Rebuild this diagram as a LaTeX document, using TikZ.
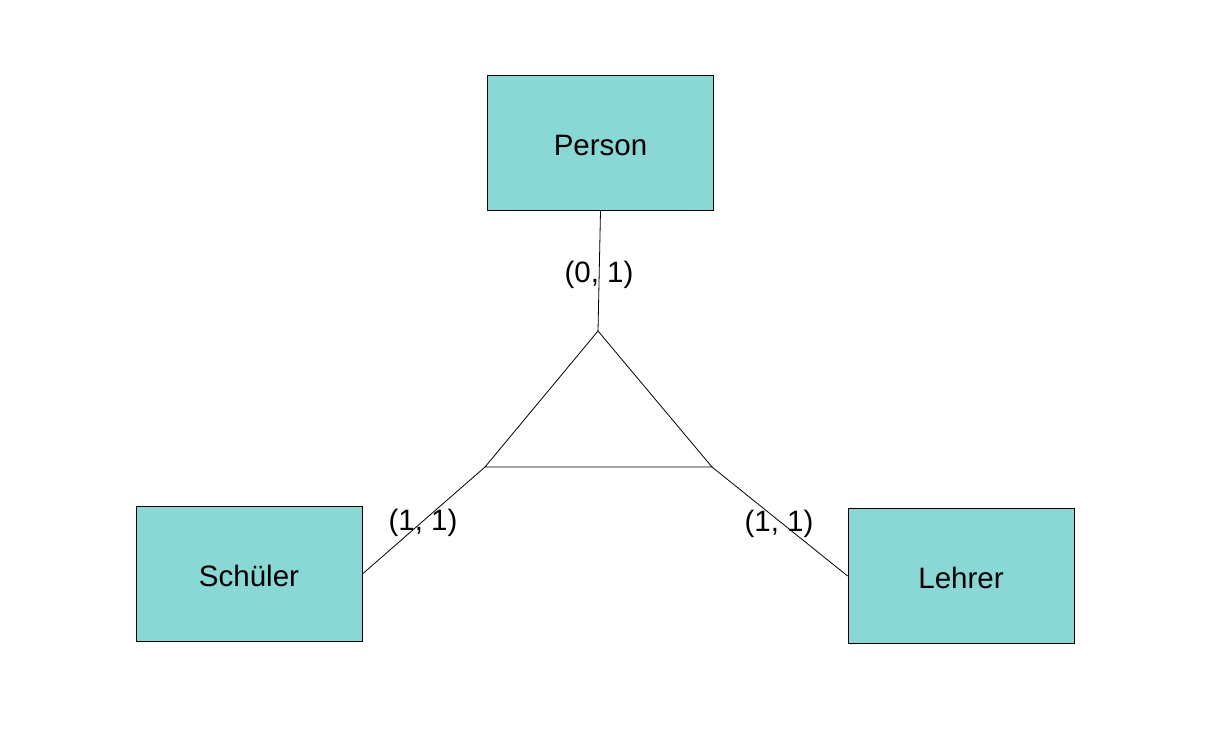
\documentclass[tikz,border=0pt]{standalone}
\usepackage{fontspec}
\setmainfont{Liberation Sans}
\definecolor{boxfill}{RGB}{138,216,213}
\begin{document}
\begin{tikzpicture}[x=1pt,y=-1pt,
  entity/.style={draw=black,line width=0.8pt,fill=boxfill,minimum width=226pt,minimum height=135pt,inner sep=0pt,text height=25.5pt,text depth=0pt,font=\fontsize{29.5}{34}\selectfont},
  card/.style={inner sep=0pt,font=\fontsize{29.5}{34}\selectfont},
  conn/.style={draw=black,line width=0.8pt}]
\useasboundingbox (0,0) rectangle (1212,734);
\node[entity] (person) at (600.5,143) {Person};
\node[entity] (schueler) at (249,574) {Schüler};
\node[entity] (lehrer) at (961,576) {Lehrer};
\coordinate (apex) at (598,331);
\coordinate (bl) at (485,467);
\coordinate (br) at (712,467);
\draw[conn] (apex) -- (bl) -- (br) -- cycle;
\draw[conn] (person.south) -- (apex);
\draw[conn] (schueler.east) -- (bl);
\draw[conn] (lehrer.west) -- (br);
\node[card] (c1) at (599,275) {(0, 1)};
\node[card] (c2) at (423,523) {(1, 1)};
\node[card] (c3) at (779,524) {(1, 1)};
\end{tikzpicture}
\end{document}
